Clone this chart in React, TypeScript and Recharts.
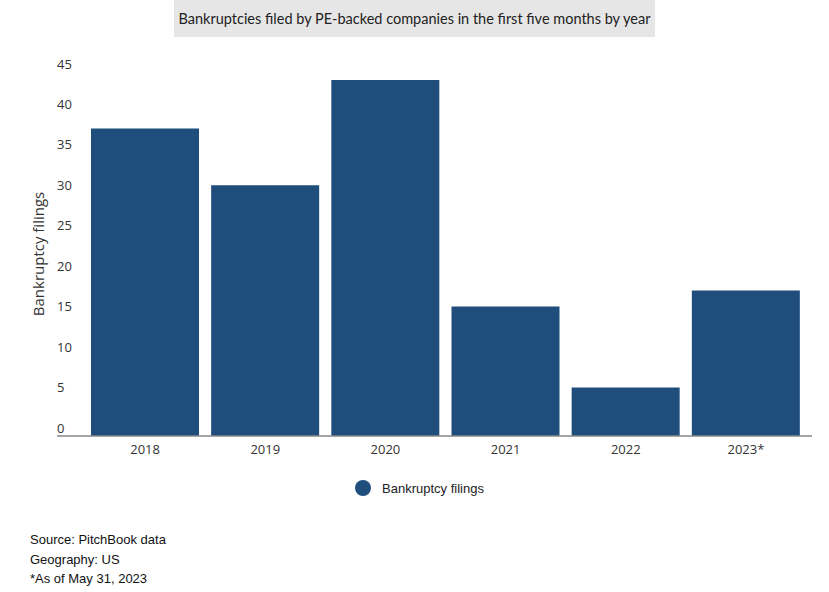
import React from "react";
import { BarChart, Bar, XAxis, YAxis } from "recharts";

const years = ["2018", "2019", "2020", "2021", "2022", "2023*"];
const filings = [38, 31, 44, 16, 6, 18];
const yTicks = [0, 5, 10, 15, 20, 25, 30, 35, 40, 45];
const footnotes = ["Source: PitchBook data", "Geography: US", "*As of May 31, 2023"];

const data = years.map((year, i) => ({ year, filings: filings[i] }));

const BLUE = "#1f4e7d";
const TEXT = "#333333";
const AXIS_FONT = "'Open Sans'";

function YTick({ y, payload }: any) {
  return (
    <text x={57} y={y - 8} dy="0.35em" textAnchor="start" fill={TEXT} fontSize={13} fontFamily={AXIS_FONT}>
      {payload.value}
    </text>
  );
}

export default function App() {
  return (
    <div style={{ position: "absolute", left: 0, top: 0, width: 829, height: 592, background: "#fff", fontFamily: "Lato" }}>
      <div
        style={{
          position: "absolute", left: 174, top: 0, width: 481, height: 37,
          background: "#e6e6e6", color: "#222", fontSize: 14.5, lineHeight: "37px", textAlign: "center",
          whiteSpace: "nowrap",
        }}
      >
        Bankruptcies filed by PE-backed companies in the first five months by year
      </div>
      <BarChart
        width={829}
        height={592}
        data={data}
        margin={{ top: 72, right: 17, bottom: 126, left: 0 }}
      >
        <XAxis
          dataKey="year"
          padding={{ left: 28, right: 6 }}
          axisLine={{ stroke: "#888", strokeWidth: 1.5 }}
          tickLine={false}
          height={30}
          tick={{ fill: TEXT, fontSize: 13, fontFamily: AXIS_FONT }}
          tickMargin={3}
        />
        <YAxis
          width={57}
          domain={[0, 45]}
          ticks={yTicks}
          axisLine={false}
          tickLine={false}
          tick={<YTick />}
          label={{
            value: "Bankruptcy filings", angle: -90, position: "insideLeft",
            offset: 0, dx: 39, fill: TEXT, fontSize: 15, fontFamily: AXIS_FONT,
            style: { textAnchor: "middle" },
          }}
        />
        <Bar dataKey="filings" fill={BLUE} barSize={108} isAnimationActive={false} />
      </BarChart>
      <div style={{ position: "absolute", left: 355, top: 480, display: "flex", alignItems: "center", fontFamily: "Arial, 'Liberation Sans'", fontSize: 13, color: "#222" }}>
        <span style={{ width: 16, height: 16, borderRadius: 8, background: BLUE, display: "inline-block", marginRight: 11 }} />
        Bankruptcy filings
      </div>
      <div style={{ position: "absolute", left: 30, top: 530, fontFamily: "Arial, 'Liberation Sans'", fontSize: 13, lineHeight: "19.5px", color: "#111" }}>
        {footnotes.map((f) => (
          <div key={f}>{f}</div>
        ))}
      </div>
    </div>
  );
}
